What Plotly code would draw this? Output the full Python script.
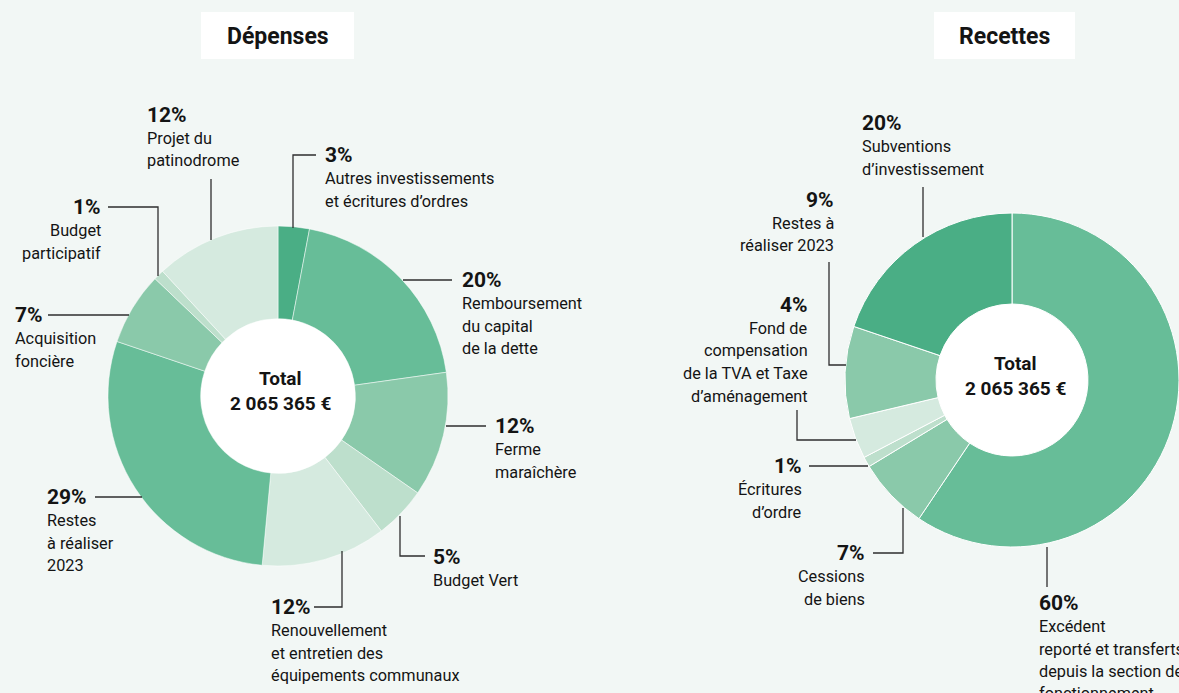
import plotly.graph_objects as go

W, H = 1179, 693

# ---------------- data ----------------
dep_labels = [
    "Autres investissements et écritures d’ordres",
    "Remboursement du capital de la dette",
    "Ferme maraîchère",
    "Budget Vert",
    "Renouvellement et entretien des équipements communaux",
    "Restes à réaliser 2023",
    "Acquisition foncière",
    "Budget participatif",
    "Projet du patinodrome",
]
dep_values = [3, 20, 12, 5, 12, 29, 7, 1, 12]
dep_lines = [
    ["Autres investissements", "et écritures d’ordres"],
    ["Remboursement", "du capital", "de la dette"],
    ["Ferme", "maraîchère"],
    ["Budget Vert"],
    ["Renouvellement", "et entretien des", "équipements communaux"],
    ["Restes", "à réaliser", "2023"],
    ["Acquisition", "foncière"],
    ["Budget", "participatif"],
    ["Projet du", "patinodrome"],
]

rec_labels = [
    "Excédent reporté et transferts depuis la section de fonctionnement",
    "Cessions de biens",
    "Écritures d’ordre",
    "Fond de compensation de la TVA et Taxe d’aménagement",
    "Restes à réaliser 2023",
    "Subventions d’investissement",
]
rec_values = [60, 7, 1, 4, 9, 20]
rec_lines = [
    ["Excédent", "reporté et transferts", "depuis la section de", "fonctionnement"],
    ["Cessions", "de biens"],
    ["Écritures", "d’ordre"],
    ["Fond de", "compensation", "de la TVA et Taxe", "d’aménagement"],
    ["Restes à", "réaliser 2023"],
    ["Subventions", "d’investissement"],
]

total_text = "2 065 365 €"
titles = ["Dépenses", "Recettes"]

# ---------------- style ----------------
BG = "#f2f7f5"
DARK = "#4aae85"
MAIN = "#67bd98"
MED = "#8ac9aa"
LIGHT = "#bddfcc"
PALE = "#d5eadf"
TXT = "#141414"
LINE = "#2e2e2e"
FONT = "Roboto"

dep_colors = [DARK, MAIN, MED, LIGHT, PALE, MAIN, MED, LIGHT, PALE]
rec_colors = [MAIN, MED, LIGHT, PALE, MED, DARK]


def X(px):
    return px / W


def Y(py):
    return 1 - py / H


# label placements (pixel positions of the percentage text and leader lines)
dep_pos = [
    ("left", 324, 155, [(293, 228), (293, 155), (316, 155)]),
    ("left", 461, 280, [(403, 280), (452, 280)]),
    ("left", 494, 426, [(446, 426), (486, 426)]),
    ("left", 432, 557, [(400, 516), (400, 556), (425, 556)]),
    ("left", 270, 607, [(342, 551), (342, 607), (314, 607)]),
    ("left", 46, 497, [(95, 497), (142, 497)]),
    ("left", 14, 315, [(48, 315), (129, 315)]),
    ("right", 102, 207, [(108, 207), (158, 207), (158, 276)]),
    ("left", 146, 115, [(211, 179), (211, 240)]),
]
rec_pos = [
    ("left", 1038, 603, [(1047, 547), (1047, 587)]),
    ("right", 866, 553, [(873, 553), (903, 553), (903, 508)]),
    ("right", 803, 466, [(809, 466), (868, 466)]),
    ("right", 809, 305, [(797, 410), (797, 440), (856, 440)]),
    ("right", 835, 200, [(829, 262), (829, 365), (846, 365)]),
    ("left", 861, 123, [(923, 187), (923, 237)]),
]

fig = go.Figure()

# donuts
LC = (278, 396, 170)
RC = (1012, 380, 167)
HOLE = 0.455

for (cx, cy, r), labels, values, colors, lw in [
    (LC, dep_labels, dep_values, dep_colors, 0.5),
    (RC, rec_labels, rec_values, rec_colors, 1.0),
]:
    fig.add_trace(go.Pie(
        labels=labels, values=values, sort=False, direction="clockwise",
        rotation=0, hole=HOLE, textinfo="none", showlegend=False,
        marker=dict(colors=colors, line=dict(color="white", width=lw)),
        domain=dict(x=[X(cx - r), min(1.0, X(cx + r))], y=[Y(cy + r), Y(cy - r)]),
        hovertemplate="%{label}: %{value}%<extra></extra>",
    ))

shapes = []
annotations = []

# white centre discs
for cx, cy, r in [LC, RC]:
    ri = r * HOLE + 2
    shapes.append(dict(type="circle", xref="paper", yref="paper", layer="below",
                       x0=X(cx - ri), x1=X(cx + ri), y0=Y(cy + ri), y1=Y(cy - ri),
                       fillcolor="white", line=dict(width=0)))

# centre texts
for cx, ty in [(280, 378), (1015, 363)]:
    annotations.append(dict(x=X(cx), y=Y(ty), xref="paper", yref="paper", text="<b>Total</b>",
                            showarrow=False, xanchor="center", yanchor="middle",
                            font=dict(family=FONT, size=19, color=TXT)))
    annotations.append(dict(x=X(cx), y=Y(ty + 25), xref="paper", yref="paper",
                            text="<b>" + total_text + "</b>",
                            showarrow=False, xanchor="center", yanchor="middle",
                            font=dict(family=FONT, size=19, color=TXT)))

# title boxes
for title, (x0, x1) in zip(titles, [(201, 354), (934, 1075)]):
    shapes.append(dict(type="rect", xref="paper", yref="paper", layer="below",
                       x0=X(x0), x1=X(x1), y0=Y(59), y1=Y(12),
                       fillcolor="white", line=dict(width=0)))
    annotations.append(dict(x=X((x0 + x1) / 2), y=Y(36), xref="paper", yref="paper",
                            text="<b>" + title + "</b>", showarrow=False,
                            xanchor="center", yanchor="middle",
                            font=dict(family=FONT, size=23, color=TXT)))

# slice labels + leader lines
for values, lines_list, pos in [(dep_values, dep_lines, dep_pos), (rec_values, rec_lines, rec_pos)]:
    for v, lines, (anchor, x, y, pts) in zip(values, lines_list, pos):
        annotations.append(dict(x=X(x), y=Y(y), xref="paper", yref="paper",
                                text="<b>%d%%</b>" % v, showarrow=False,
                                xanchor=anchor, yanchor="middle", borderpad=0,
                                font=dict(family=FONT, size=21, color=TXT)))
        for i, ln in enumerate(lines):
            annotations.append(dict(x=X(x), y=Y(y + 23.5 + 22.5 * i), xref="paper", yref="paper",
                                    text=ln, showarrow=False, xanchor=anchor, yanchor="middle",
                                    borderpad=0, font=dict(family=FONT, size=16.3, color=TXT)))
        path = "M " + " L ".join("%f,%f" % (X(px), Y(py)) for px, py in pts)
        shapes.append(dict(type="path", xref="paper", yref="paper", path=path,
                           line=dict(color=LINE, width=1.3)))

fig.update_layout(
    width=W, height=H,
    margin=dict(l=0, r=0, t=0, b=0),
    paper_bgcolor=BG, plot_bgcolor=BG,
    shapes=shapes, annotations=annotations,
    font=dict(family=FONT, color=TXT),
)

fig.write_html(
    "out.html",
    config={"displayModeBar": False},
    post_script="document.body.style.margin='0';document.body.style.overflow='hidden';"
                "document.body.style.background='" + BG + "';",
)
